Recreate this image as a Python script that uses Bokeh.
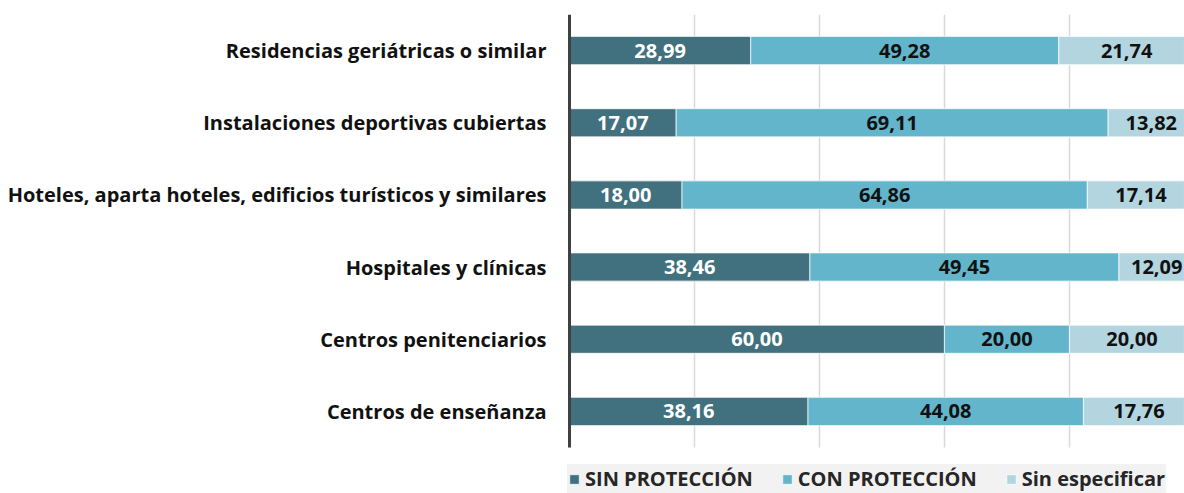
from bokeh.plotting import figure
from bokeh.models import ColumnDataSource, Range1d, Legend, LegendItem, FixedTicker
from bokeh.core.properties import value
from bokeh.embed import file_html
from bokeh.resources import INLINE

categories = [
    "Residencias geriátricas o similar",
    "Instalaciones deportivas cubiertas",
    "Hoteles, aparta hoteles, edificios turísticos y similares",
    "Hospitales y clínicas",
    "Centros penitenciarios",
    "Centros de enseñanza",
]
sin_proteccion = [28.99, 17.07, 18.00, 38.46, 60.00, 38.16]
con_proteccion = [49.28, 69.11, 64.86, 49.45, 20.00, 44.08]
sin_especificar = [21.74, 13.82, 17.14, 12.09, 20.00, 17.76]
series_names = ["SIN PROTECCIÓN", "CON PROTECCIÓN", "Sin especificar"]
grid_ticks = [0, 20, 40, 60, 80, 100]

colors = ["#41717e", "#62b5cb", "#b3d5df"]
label_colors = ["white", "#111111", "#111111"]
FONT = "Open Sans"

n = len(categories)
ypos = [n - 1 - i for i in range(n)]          # top category at top
slot_px = 433 / n                              # pixel height of one category slot
extra = 46 / slot_px                           # room below the bars for the legend

p = figure(
    width=1184, height=493,
    x_range=Range1d(-0.32, 98.4),
    y_range=Range1d(-0.5 - extra, n - 0.5),
    min_border_left=567, min_border_right=0, min_border_top=14, min_border_bottom=0,
    output_backend="svg", toolbar_location=None,
)
p.outline_line_color = None
p.background_fill_color = "white"
p.border_fill_color = "white"
p.xgrid.grid_line_color = None
p.ygrid.grid_line_color = None
p.xaxis.visible = False

# vertical gridlines (only across the bar area)
p.segment(x0=grid_ticks, x1=grid_ticks, y0=-0.5, y1=n - 0.5,
          line_color="#d9d9d9", line_width=1.5)

series = [sin_proteccion, con_proteccion, sin_especificar]
items = []
left = [0.0] * n
for name, vals, col, lcol in zip(series_names, series, colors, label_colors):
    right = [l + v for l, v in zip(left, vals)]
    mid = [(l + r) / 2 for l, r in zip(left, right)]
    src = ColumnDataSource(dict(
        y=ypos, left=left, right=right, mid=mid,
        lab=[f"{v:.2f}".replace(".", ",") for v in vals],
    ))
    r = p.hbar(y="y", left="left", right="right", height=0.39, source=src,
               fill_color=col, fill_alpha=1.0, line_color="white", line_alpha=0.6, line_width=1.2)
    p.text(x="mid", y="y", text="lab", source=src, text_align="center", text_baseline="middle",
           text_font=value(FONT), text_font_style="bold", text_font_size="20px", text_color=lcol)
    items.append(LegendItem(label=name, renderers=[r]))
    left = right

# vertical axis line (dark) spanning the bar area
p.segment(x0=[0], x1=[0], y0=[-0.5], y1=[n - 0.5], line_color="#404040", line_width=3)

ya = p.yaxis[0]
ya.ticker = FixedTicker(ticks=ypos)
ya.major_label_overrides = {y: c for y, c in zip(ypos, categories)}
ya.axis_line_color = None
ya.major_tick_line_color = None
ya.minor_tick_line_color = None
ya.major_tick_out = 0
ya.major_label_standoff = 21
ya.major_label_text_font = FONT
ya.major_label_text_font_style = "bold"
ya.major_label_text_font_size = "20px"
ya.major_label_text_color = "#111111"

legend = Legend(items=items, orientation="horizontal", location=(0, 0))
legend.background_fill_color = "#f2f2f2"
legend.background_fill_alpha = 1
legend.border_line_alpha = 0
legend.label_text_font = FONT
legend.label_text_font_style = "bold"
legend.label_text_font_size = "20px"
legend.label_text_color = "#262626"
legend.label_height = 20
legend.glyph_width = 12
legend.glyph_height = 12
legend.label_standoff = 5
legend.spacing = 28
legend.padding = 1
legend.margin = 0
p.add_layout(legend, "center")

open("out.html", "w").write(file_html(p, INLINE))
